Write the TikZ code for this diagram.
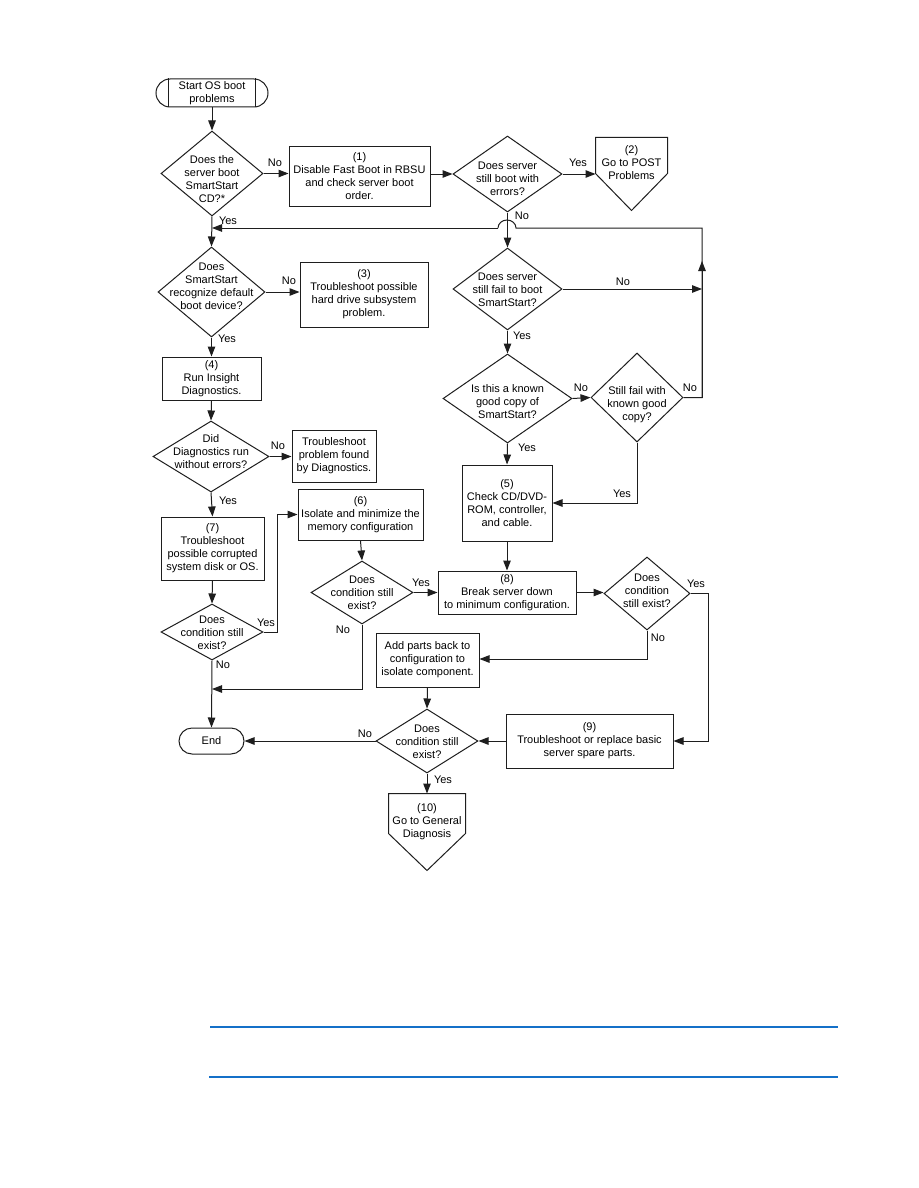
\documentclass[tikz,border=0pt]{standalone}
\usepackage{fontspec}
\setmainfont{Liberation Sans}
\usetikzlibrary{arrows.meta,shapes.geometric,calc}
\definecolor{ln}{RGB}{30,30,30}
\definecolor{rule}{RGB}{20,112,200}
\begin{document}
\begin{tikzpicture}[x=1pt,y=-1pt,line width=1pt,draw=ln,
  every node/.style={font=\fontsize{11}{13}\selectfont,inner sep=0pt,text=black},
  box/.style={draw,rectangle,align=center},
  dia/.style={draw,diamond,inner sep=0pt},
  txt/.style={align=center},
  term/.style={draw,rectangle,align=center},
  arr/.style={-{Triangle[length=10pt,width=7.5pt]}}]
\useasboundingbox[fill=white] (0,0) rectangle (918,1188);

% ---- nodes ----
\node[term,minimum width=112pt,minimum height=28pt,rounded corners=14pt] (start) at (212,93) {Start OS boot\\problems};
\draw ([xshift=13pt]start.north west) -- ([xshift=13pt]start.south west);
\draw ([xshift=-13pt]start.north east) -- ([xshift=-13pt]start.south east);

\node[dia,minimum width=102pt,minimum height=85pt] (d1) at (212,173.5) {};
\node[txt] (d1t) at (212,179) {Does the\\server boot\\SmartStart\\CD?*};

\node[box,minimum width=141pt,minimum height=60pt] (b1) at (359.5,176) {(1)\\Disable Fast Boot in RBSU\\and check server boot\\order.};

\node[dia,minimum width=109pt,minimum height=76pt] (d2) at (507.5,174) {};
\node[txt] (d2t) at (507.5,179) {Does server\\still boot with\\errors?};

\node[minimum width=71pt,minimum height=35pt] (p2) at (631.5,155.5) {};
\coordinate (p2tip) at ($(p2.south)+(0,37)$);
\draw (p2.north west) -- (p2.north east) -- (p2.south east) -- (p2tip) -- (p2.south west) -- cycle;
\node[txt] (p2t) at (631.5,163) {(2)\\Go to POST\\Problems};

\node[dia,minimum width=107pt,minimum height=90pt] (d3) at (211.5,292) {};
\node[txt] (d3t) at (211.5,286.5) {Does\\SmartStart\\recognize default\\boot device?};

\node[box,minimum width=128pt,minimum height=65pt] (b3) at (364,294.5) {(3)\\Troubleshoot possible\\hard drive subsystem\\problem.};

\node[box,minimum width=99pt,minimum height=43pt] (b4) at (211.5,378.5) {(4)\\Run Insight\\Diagnostics.};

\node[dia,minimum width=116pt,minimum height=71pt] (d4) at (211,456.5) {};
\node[txt] (d4t) at (211,452) {Did\\Diagnostics run\\without errors?};

\node[box,minimum width=84pt,minimum height=52pt] (bT) at (334,456) {Troubleshoot\\problem found\\by Diagnostics.};

\node[box,minimum width=103pt,minimum height=63pt] (b7) at (212.5,548.5) {(7)\\Troubleshoot\\possible corrupted\\system disk or OS.};

\node[box,minimum width=125pt,minimum height=51pt] (b6) at (360.5,514.5) {(6)\\Isolate and minimize the\\memory configuration};

\node[dia,minimum width=102pt,minimum height=56pt] (d7) at (212,632) {};
\node[txt] (d7t) at (212,633) {Does\\condition still\\exist?};

\node[dia,minimum width=102pt,minimum height=63pt] (d6) at (362,592.5) {};
\node[txt] (d6t) at (362,593) {Does\\condition still\\exist?};

\node[dia,minimum width=109pt,minimum height=82pt] (d5r) at (507.5,289) {};
\node[txt] (d5rt) at (507.5,290) {Does server\\still fail to boot\\SmartStart?};

\node[dia,minimum width=129pt,minimum height=89pt] (d5) at (507.5,398.5) {};
\node[txt] (d5t) at (507.5,402) {Is this a known\\good copy of\\SmartStart?};

\node[dia,minimum width=92pt,minimum height=89pt] (dS) at (637,397.5) {};
\node[txt] (dSt) at (637,405) {Still fail with\\known good\\copy?};

\node[box,minimum width=90pt,minimum height=76pt] (b5) at (507,503) {(5)\\Check CD/DVD-\\ROM, controller,\\and cable.};

\node[box,minimum width=138pt,minimum height=43pt] (b8) at (507,592.5) {(8)\\Break server down\\to minimum configuration.};

\node[dia,minimum width=86pt,minimum height=73pt] (d8) at (647,593.5) {};
\node[txt] (d8t) at (647,591) {Does\\condition\\still exist?};

\node[box,minimum width=103pt,minimum height=54pt] (bA) at (427.5,660) {Add parts back to\\configuration to\\isolate component.};

\node[dia,minimum width=102pt,minimum height=64pt] (dF) at (427,741) {};
\node[txt] (dFt) at (427,741.5) {Does\\condition still\\exist?};

\node[box,minimum width=167pt,minimum height=54pt] (b9) at (589.5,741) {(9)\\Troubleshoot or replace basic\\server spare parts.};

\node[term,minimum width=65pt,minimum height=26pt,rounded corners=13pt] (end) at (211.5,741) {End};

\node[minimum width=76pt,minimum height=39pt] (p10) at (427,813.5) {};
\coordinate (p10tip) at ($(p10.south)+(0,37)$);
\draw (p10.north west) -- (p10.north east) -- (p10.south east) -- (p10tip) -- (p10.south west) -- cycle;
\node[txt] (p10t) at (427,822) {(10)\\Go to General\\Diagnosis};

% ---- helper coordinates ----
\coordinate (R) at (702,228);
\coordinate (Rup) at (702,261);
\coordinate (c7) at (277,514.5);
\coordinate (c6) at (362,689);
\coordinate (c8) at (708,741);
\coordinate (c5) at (637,503);
\coordinate (c8n) at (647,659);

% ---- connectors ----
\draw[arr] (start.south) -- (d1.north);
\draw[arr] (d1.east) -- (d1.east -| b1.west);
\draw[arr] (d2.west -| b1.east) -- (d2.west);
\draw[arr] (d2.east) -- (d2.east -| p2.west);
\draw[arr] (d2.south) -- (d5r.north);
\draw[arr] (d1.south) -- (d3.north);
\draw[arr] (d5r.east) -- (d5r.east -| R);
\draw (dS.east) -- (dS.east -| R) -- (R) -- (516,228)
   arc[start angle=0,end angle=-180,x radius=9,y radius=8] -- (498,228);
\draw[arr] (498,228) -- (R -| d1.south);
\draw[arr] (dS.east -| R) -- (Rup);
\draw[arr] (d3.east) -- (d3.east -| b3.west);
\draw[arr] (d3.south) -- (b4.north);
\draw[arr] (b4.south) -- (d4.north);
\draw[arr] (d4.east) -- (d4.east -| bT.west);
\draw[arr] (d4.south) -- (b7.north);
\draw[arr] (b7.south) -- (d7.north);
\draw[arr] (d7.east) -- (d7.east -| c7) -- (c7) -- (b6.west);
\draw[arr] (b6.south) -- (d6.north);
\draw[arr] (d6.east) -- (d6.east -| b8.west);
\draw[arr] (d6.south) -- (c6) -- (c6 -| d7.south);
\draw[arr] (d7.south) -- (end.north);
\draw[arr] (d5r.south) -- (d5.north);
\draw[arr] (d5.east) -- (dS.west);
\draw[arr] (d5.south) -- (b5.north);
\draw[arr] (dS.south) -- (c5) -- (c5 -| b5.east);
\draw[arr] (b5.south) -- (b8.north);
\draw[arr] (b8.east) -- (b8.east -| d8.west);
\draw[arr] (d8.east) -- (d8.east -| c8) -- (c8) -- (b9.east);
\draw[arr] (d8.south) -- (c8n) -- (c8n -| bA.east);
\draw[arr] (bA.south) -- (dF.north);
\draw[arr] (b9.west) -- (dF.east);
\draw[arr] (dF.west) -- (end.east);
\draw[arr] (dF.south) -- (p10.north);

% ---- labels ----
\node (l1) at (275,163) {No};
\node (l2) at (228,221) {Yes};
\node (l3) at (578,163) {Yes};
\node (l4) at (522,216) {No};
\node (l5) at (623,282) {No};
\node (l6) at (289,281) {No};
\node (l7) at (227,339) {Yes};
\node (l8) at (522,336) {Yes};
\node (l9) at (581,388) {No};
\node (l10) at (690,388) {No};
\node (l11) at (278,446) {No};
\node (l12) at (527,448) {Yes};
\node (l13) at (228,501) {Yes};
\node (l14) at (622,494) {Yes};
\node (l15) at (421,583) {Yes};
\node (l16) at (696,584) {Yes};
\node (l17) at (266,623) {Yes};
\node (l18) at (343,630) {No};
\node (l19) at (658,638) {No};
\node (l20) at (223,665) {No};
\node (l21) at (365,734) {No};
\node (l22) at (443,780) {Yes};

% ---- rules ----
\coordinate (ra) at (210,1027);
\coordinate (rb) at (838,1027);
\coordinate (rc) at (209,1077);
\coordinate (rd) at (838,1077);
\draw[rule,line width=1.3pt] (ra) -- (rb);
\draw[rule,line width=1.3pt] (rc) -- (rd);
\end{tikzpicture}
\end{document}
